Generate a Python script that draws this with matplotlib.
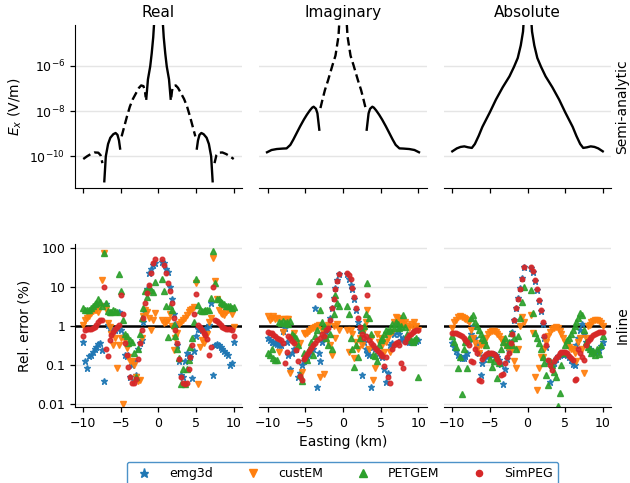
import numpy as np
import matplotlib
matplotlib.use("Agg")
import matplotlib.pyplot as plt
from matplotlib.ticker import NullLocator
from matplotlib.lines import Line2D

nan = np.nan

# ---------------- Semi-analytic Ex (V/m), signed ----------------
x_real = [-10.0, -9.5, -9.0, -8.5, -8.0, -7.7, -7.45,
          -7.2, -7.0, -6.7, -6.4, -6.0, -5.7, -5.45, -5.25, -5.1,
          -4.9, -4.6, -4.2, -3.8, -3.4, -3.0, -2.6, -2.3, -2.0, -1.8, -1.7,
          -1.62, -1.4, -1.1, -0.9, -0.7, -0.5, -0.3, 0.0, 0.3, 0.5, 0.7, 0.9, 1.1, 1.4, 1.62,
          1.7, 1.8, 2.0, 2.3, 2.6, 3.0, 3.4, 3.8, 4.2, 4.6, 4.9,
          5.1, 5.25, 5.45, 5.7, 6.0, 6.4, 6.7, 7.0, 7.2,
          7.45, 7.7, 8.0, 8.5, 9.0, 9.5, 10.0]
ex_real = [-7.6e-11, -1.0e-10, -1.26e-10, -1.48e-10, -1.45e-10, -1.12e-10, -5.0e-11,
           7.9e-12, 1.0e-10, 3.5e-10, 6.6e-10, 9.5e-10, 1.07e-9, 8.9e-10, 5.0e-10, 2.2e-10,
           -7.6e-10, -1.78e-9, -5.6e-9, -1.58e-8, -3.4e-8, -6.0e-8, -1.05e-7, -1.35e-7, -1.26e-7, -7.9e-8, -4.0e-8,
           3.5e-8, 2.5e-7, 9.3e-7, 3.5e-6, 1.78e-5, 2.0e-4, 2.0e-3, 1.0e-2, 2.0e-3, 2.0e-4, 1.78e-5, 3.5e-6, 9.3e-7, 2.5e-7, 3.5e-8,
           -4.0e-8, -7.9e-8, -1.26e-7, -1.35e-7, -1.05e-7, -6.0e-8, -3.4e-8, -1.58e-8, -5.6e-9, -1.78e-9, -7.6e-10,
           2.2e-10, 5.0e-10, 8.9e-10, 1.07e-9, 9.5e-10, 6.6e-10, 3.5e-10, 1.0e-10, 7.9e-12,
           -5.0e-11, -1.12e-10, -1.45e-10, -1.48e-10, -1.26e-10, -1.0e-10, -7.6e-11]

x_imag = [-10.1, -9.5, -8.8, -8.0, -7.5, -7.0, -6.6, -6.2, -5.7, -5.2, -4.8, -4.4, -4.1, -3.9, -3.6, -3.4, -3.15,
          -3.0, -2.7, -2.4, -2.0, -1.7, -1.4, -1.0, -0.6, -0.3, 0.0, 0.3, 0.6, 1.0, 1.4, 1.7, 2.0, 2.4, 2.7, 3.0,
          3.15, 3.4, 3.6, 3.9, 4.1, 4.4, 4.8, 5.2, 5.7, 6.2, 6.6, 7.0, 7.5, 8.0, 8.8, 9.5, 10.1]
ex_imag = [1.51e-10, 1.9e-10, 2.1e-10, 2.2e-10, 2.24e-10, 3.2e-10, 5.5e-10, 1.0e-9, 2.1e-9, 4.2e-9, 6.9e-9, 1.07e-8, 1.41e-8, 1.55e-8, 1.26e-8, 7.9e-9, 1.5e-9,
           -1.35e-8, -3.5e-8, -8.5e-8, -2.2e-7, -4.8e-7, -1.05e-6, -2.8e-6, -2.0e-5, -1.0e-3, -1.0e-2, -1.0e-3, -2.0e-5, -2.8e-6, -1.05e-6, -4.8e-7, -2.2e-7, -8.5e-8, -3.5e-8, -1.35e-8,
           1.5e-9, 7.9e-9, 1.26e-8, 1.55e-8, 1.41e-8, 1.07e-8, 6.9e-9, 4.2e-9, 2.1e-9, 1.0e-9, 5.5e-10, 3.2e-10, 2.24e-10, 2.2e-10, 2.1e-10, 1.9e-10, 1.51e-10]

x_abs = [-10.0, -9.4, -8.9, -8.4, -7.9, -7.4, -7.0, -6.5, -6.0, -5.0, -4.2, -3.3, -2.4, -1.8, -1.3, -0.9, -0.6, -0.3, 0.0,
         0.3, 0.6, 0.9, 1.3, 1.8, 2.4, 3.3, 4.2, 5.0, 6.0, 6.5, 7.0, 7.4, 7.9, 8.4, 8.9, 9.4, 10.0]
ex_abs = [1.66e-10, 2.24e-10, 2.6e-10, 2.75e-10, 2.5e-10, 2.35e-10, 3.5e-10, 7.9e-10, 2.0e-9, 8.9e-9, 3.2e-8, 1.12e-7, 3.4e-7, 8.9e-7, 2.2e-6, 7.9e-6, 3.2e-5, 1.0e-3, 1.0e-2,
          1.0e-3, 3.2e-5, 7.9e-6, 2.2e-6, 8.9e-7, 3.4e-7, 1.12e-7, 3.2e-8, 8.9e-9, 2.0e-9, 7.9e-10, 3.5e-10, 2.35e-10, 2.5e-10, 2.75e-10, 2.6e-10, 2.24e-10, 1.66e-10]

# ---------------- Relative errors, log10 of percent ----------------
offsets = np.linspace(-10, 10, 81)  # receiver offsets (km), 0.25 km spacing

real_emg3d = [-0.4, -0.9, -1.07, -0.77, -0.74, -0.68, -0.6, -0.53, -0.47, -0.45, -0.62, -1.4,
              0.55, 0.03, -0.05, -0.08, -0.1, -0.1, -0.05, 0.35, -0.1, -0.27, -0.74, -0.78,
              -0.74, -1.32, -1.0, -0.9, -1.26, -0.6, -0.45, -0.36, 0.1, 0.35, 0.95, 1.35,
              1.45, 1.57, 1.62, nan, nan, nan, 1.63, 1.6, 1.45,
              1.38, 1.0, 0.7, 0.3, 0.05, -0.5, -0.9, -1.26, -1.3, -0.9, -0.7, -0.74,
              -0.8, -1.33, -0.65, -0.27, -0.08, -0.08, -0.1, -0.1, -0.08, -0.05, 0.03, 0.6,
              -1.26, -0.5, -0.47, -0.5, -0.55, -0.6, -0.65, -0.7, -0.74, -1.0, -0.95, -0.4]
real_custem = [0.03, 0.15, 0.2, 0.25, 0.32, 0.37, 0.4, 0.41, 0.35, 0.5, 1.18, 1.88,
               0.43, 0.07, -0.02, -0.2, -0.49, -0.3, -1.08, -0.5, -0.3, -2.0, -0.36, -0.57,
               -0.8, -0.9, -0.91, -1.0, -1.3, -1.4, -1.38, -0.3, 0.26, 0.41, 0.35, 0.2,
               -0.1, 0.15, 0.32, nan, nan, nan, 0.15, 0.07, 0.1,
               0.15, 0.3, 0.0, -0.62, -0.3, -0.19, 0.05, 0.1, 0.14, 0.2, 0.28, 0.35,
               0.4, 0.44, 0.48, 1.11, -1.5, -0.53, -0.36, -0.45, -0.26, -0.2, 0.09, 0.2,
               1.74, 1.14, 0.7, 0.41, 0.33, 0.3, 0.28, 0.35, 0.4, 0.43, 0.3, -0.03]
real_petgem = [0.45, 0.4, 0.42, 0.4, 0.45, 0.5, 0.55, 0.6, 0.7, 0.62, 0.5, 1.88,
               0.6, 0.37, 0.35, 0.36, 0.4, 0.38, 0.35, 1.33, 0.9, 0.15, -0.2, -0.27,
               -0.44, -0.35, -0.4, -0.7, -1.3, -0.6, -0.2, 0.2, 0.45, 0.9, 0.75, 1.0,
               0.92, 0.88, 1.12, nan, nan, nan, 1.2, 0.9, 0.5,
               -0.29, 0.5, 0.41, 0.03, -0.27, -0.6, -0.83, -1.49, -1.1, -1.5, -1.1, -0.88,
               -0.53, -0.3, 0.1, 1.2, 0.54, 0.4, 0.38, 0.37, 0.4, 0.42, 0.4, 0.71,
               1.92, 1.09, 0.7, 0.68, 0.62, 0.6, 0.55, 0.52, 0.5, 0.5, 0.45, 0.48]
real_simpeg = [-0.26, -0.1, -0.08, -0.08, -0.07, -0.05, -0.03, 0.03, 0.1, 0.14, 0.15, 0.99,
               -0.6, -0.77, -0.36, -0.24, -0.15, -0.08, -0.02, 0.03, 0.8, 0.3, -0.45, -0.75,
               -1.05, -1.3, -1.45, -1.45, -1.35, -0.85, -0.45, -0.1, 0.2, 0.6, 0.85, 1.05,
               1.35, 1.6, 1.72, nan, nan, nan, 1.72, 1.55, 1.35,
               1.1, 0.9, 0.6, 0.2, -0.1, -0.45, -0.85, -1.3, -1.45, -1.5, -1.45, -1.1,
               -0.8, -0.5, 0.3, 0.82, 0.03, -0.04, -0.1, -0.17, -0.24, -0.33, -0.75, -0.55,
               0.99, 0.15, 0.12, 0.07, 0.02, -0.02, -0.05, -0.07, -0.08, -0.09, -0.1, -0.26]

imag_emg3d = [-0.3, -0.36, -0.4, -0.42, -0.45, -0.47, -0.5, -0.48, -0.12, -0.06, -0.4, -0.75,
              -1.1, -0.7, -0.6, -0.6, -1.3, -1.2, -1.0, -0.9, -0.85, -0.8, -0.72, -0.65,
              -0.58, 0.45, -1.56, -0.7, -0.9, -0.4, -0.3, -0.15, 0.0, 0.2, 0.45, 0.72,
              0.97, 1.18, 1.33, nan, nan, nan, 1.33, 1.2, 1.05,
              0.95, 0.7, 0.4, 0.1, -0.1, -1.26, -0.4, -0.6, -0.7, -0.75, -1.56, -0.55,
              -0.6, -0.65, -0.7, -0.75, -0.8, -1.1, -1.43, -1.2, -0.5, -0.45, -0.2, 0.1,
              -0.1, -0.2, -0.35, -0.3, -0.35, -0.38, -0.4, -0.4, -0.42, -0.4, -0.38, -0.35]
imag_custem = [0.26, 0.15, 0.2, 0.26, 0.17, 0.2, -0.68, 0.17, -0.15, 0.17, 0.17, 0.17,
               -1.2, -0.3, -0.17, -0.5, -0.55, -0.45, -1.17, -0.19, -0.2, -0.19, -0.12, -0.08,
               -0.05, -0.02, 0.0, 0.02, -1.3, -0.1, -1.23, -0.3, 0.03, -0.5, -0.74, 0.0,
               -0.3, 0.05, -0.1, nan, nan, nan, -0.1, -0.66, -0.1,
               -0.2, -0.83, -0.4, -0.6, -0.3, -0.5, -0.1, 0.1, 0.41, -0.6, -0.3, -1.38,
               -1.08, -0.2, -0.4, -0.3, -0.5, -0.66, -0.4, -0.3, -0.66, -0.15, 0.1, 0.24,
               0.2, 0.15, 0.1, 0.05, 0.1, 0.0, -0.05, 0.05, -0.02, 0.1, 0.0, -0.1]
imag_petgem = [-0.7, -0.75, -0.6, -0.82, -0.87, -0.88, 0.1, 0.08, 0.12, 0.07, 0.1, 0.05,
               0.12, -0.2, -0.27, -0.3, -0.5, -1.26, -1.4, -0.7, -0.8, -0.87, -0.6, -0.4,
               -0.75, -0.25, -0.1, 1.16, 0.4, 0.1, 0.0, -0.3, -0.5, -0.2, -0.6, 0.3,
               0.8, 0.6, 0.5, nan, nan, nan, 0.5, 0.3, -0.3,
               -0.6, -1.04, -0.5, -0.8, -0.3, -0.1, 0.0, 0.3, 1.1, 0.2, -0.2, -0.74,
               -0.78, -0.9, -0.5, -0.36, -0.3, -0.2, -0.1, -0.12, -0.1, 0.05, -0.05, 0.1,
               0.05, -0.05, 0.0, 0.28, -0.02, -0.2, -0.3, -0.36, -0.4, -0.35, -0.3, -1.3]
imag_simpeg = [-0.15, -0.17, -0.19, -0.22, -0.26, -0.3, -0.33, -0.36, -0.45, -0.94, -0.66, -0.27,
               -0.3, -0.38, -0.44, -0.62, -0.9, -1.28, -1.38, -0.85, -0.8, -0.72, -0.64, -0.56,
               -0.5, -0.43, -0.36, 0.8, -0.3, -0.2, -0.25, -0.1, -0.05, 0.15, 0.45, 0.7,
               0.95, 1.15, 1.32, nan, nan, nan, 1.35, 1.3, 1.2,
               0.97, 0.74, 0.45, 0.2, -0.03, -0.2, -0.3, -0.25, 0.8, -0.36, -0.43, -0.5,
               -0.56, -0.62, -0.67, -0.72, -0.76, -1.03, -0.8, -1.3, -1.45, -0.6, -0.5, -0.45,
               -0.4, -0.5, -0.96, -1.09, -0.4, -0.3, -0.24, -0.2, -0.16, -0.13, -0.11, -0.1]

abs_emg3d = [-0.45, -0.55, -0.65, -0.75, -0.8, -0.83, -0.82, -0.78, -0.7, -0.4, -0.2, 0.0,
             -0.3, -0.5, -0.7, -1.26, -0.95, -0.85, -0.78, -0.74, -0.72, -0.71, -0.72, -0.75,
             -0.8, -0.87, -0.97, -1.5, -1.1, -0.85, -0.65, -0.4, -0.15, 0.15, 0.45, 0.72,
             0.97, 1.22, 1.5, nan, nan, nan, 1.48, 1.38, 1.15,
             0.93, 0.65, 0.38, 0.05, -0.3, -0.55, -0.9, -1.43, -1.05, -0.95, -0.85, -0.78,
             -0.74, -0.72, -0.71, -0.72, -0.75, -0.8, -0.87, -0.97, -1.0, -0.5, -0.3, -0.1,
             0.05, -0.2, -0.4, -0.55, -0.6, -0.65, -0.68, -0.7, -0.68, -0.62, -0.52, -0.42]
abs_custem = [-0.06, 0.11, 0.15, 0.22, 0.26, 0.24, 0.2, 0.17, 0.15, 0.11, -0.1, -0.3,
              -0.45, -0.6, -0.7, -0.5, -0.45, -0.5, -0.3, -0.2, -0.15, -0.12, -0.12, -0.15,
              -0.2, -0.26, -0.33, -0.4, -0.5, -0.55, -0.55, -0.55, -0.6, -0.9, -1.08, -0.6,
              0.0, 0.24, 0.1, nan, nan, nan, 0.27, -0.19, -1.3,
              -1.64, -1.08, -0.8, -0.79, -0.6, -0.4, -0.25, -0.15, -0.08, -0.05, -0.04, -0.06,
              -0.12, -0.2, -0.3, -0.4, -0.5, -0.55, -0.58, -0.6, -0.7, -0.9, -0.4, -0.3,
              -0.6, -1.2, -0.3, 0.0, 0.03, 0.1, 0.13, 0.15, 0.14, 0.12, 0.08, 0.0]
abs_petgem = [-0.27, -0.4, -0.53, -1.07, -0.8, -1.74, -0.6, -0.4, -1.08, -0.3, 0.2, 0.28,
              0.1, 0.0, -0.1, -0.2, -0.3, -0.36, -0.5, -0.7, -0.85, -1.04, -0.9, -0.8,
              -1.34, -0.95, -0.6, -0.4, -0.3, -0.5, -0.4, -0.19, -0.5, -0.3, -0.6, -0.27,
              0.2, 0.62, 0.99, nan, nan, nan, 0.92, 0.32, -0.19,
              -0.3, -0.44, -0.6, -0.8, -0.96, -1.26, -1.51, -0.9, -1.0, -1.17, -1.3, -2.04,
              -1.71, -1.0, -0.7, -0.5, -0.36, -0.3, -0.2, -0.1, 0.0, 0.1, 0.2, 0.34,
              0.28, -0.1, -0.4, -0.55, -0.6, -0.7, -0.65, -0.75, -0.6, -0.72, -0.5, -0.27]
abs_simpeg = [-0.17, -0.17, -0.19, -0.2, -0.22, -0.25, -0.3, -0.35, -0.42, -0.5, -0.9, -0.92,
              -0.6, -0.7, -1.38, -1.42, -0.85, -0.78, -0.73, -0.7, -0.7, -0.7, -0.73, -0.78,
              -0.85, -0.92, -1.25, -1.22, -0.95, -0.8, -0.7, -0.45, -0.2, 0.15, 0.45, 0.7,
              0.95, 1.2, 1.52, nan, nan, nan, 1.52, 1.4, 1.18,
              0.95, 0.67, 0.41, 0.1, -0.27, -0.5, -0.87, -1.0, -1.13, -0.9, -0.83, -0.76,
              -0.7, -0.67, -0.66, -0.67, -0.7, -0.76, -0.82, -0.88, -1.38, -1.35, -0.6, -0.7,
              -0.8, -0.87, -0.5, -0.38, -0.33, -0.28, -0.24, -0.2, -0.18, -0.16, -0.15, -0.15]

titles = ["Real", "Imaginary", "Absolute"]
codes = ["emg3d", "custEM", "PETGEM", "SimPEG"]
markers = ["*", "v", "^", "o"]
msizes = [5.0, 4.2, 4.2, 3.3]
colors = ["C0", "C1", "C2", "C3"]
errors = [[real_emg3d, real_custem, real_petgem, real_simpeg],
          [imag_emg3d, imag_custem, imag_petgem, imag_simpeg],
          [abs_emg3d, abs_custem, abs_petgem, abs_simpeg]]
fields = [(x_real, ex_real), (x_imag, ex_imag), (x_abs, ex_abs)]

fig = plt.figure(figsize=(6.3, 4.83), dpi=100)
lefts = [0.119, 0.4119, 0.7048]
width = 0.2651
height = 0.3375
bottoms = [0.6108, 0.1574]
grid_col = "#e5e5e5"

axes = [[fig.add_axes([l, b, width, height]) for l in lefts] for b in bottoms]

for j in range(3):
    # --- top row
    ax = axes[0][j]
    xs = np.array(fields[j][0])
    v = np.array(fields[j][1])
    pos = np.where(v > 0, v, nan)
    neg = np.where(v < 0, -v, nan)
    ax.plot(xs, pos, "k-", lw=1.7)
    ax.plot(xs, neg, "k--", lw=1.7, dashes=(3.6, 1.8))
    ax.set_yscale("log")
    ax.set_ylim(4e-12, 6.3e-5)
    ax.set_yticks([1e-10, 1e-8, 1e-6])
    ax.yaxis.set_minor_locator(NullLocator())
    ax.set_title(titles[j], fontsize=11, pad=6)
    ax.tick_params(axis="x", labelbottom=False)

    # --- bottom row
    ax = axes[1][j]
    ax.axhline(1, color="k", lw=1.8, zorder=1.5)
    for k in range(4):
        e = 10 ** np.array(errors[j][k], dtype=float)
        ax.plot(offsets, e, ls="none", marker=markers[k], ms=msizes[k],
                color=colors[k], mec=colors[k], alpha=0.9, zorder=2 + k * 0.1)
    ax.set_yscale("log")
    ax.set_ylim(10 ** -2.077, 10 ** 2.1)
    ax.set_yticks([0.01, 0.1, 1, 10, 100])
    ax.set_yticklabels(["0.01", "0.1", "1", "10", "100"])
    ax.yaxis.set_minor_locator(NullLocator())

for row in axes:
    for j, ax in enumerate(row):
        ax.set_xlim(-11.1, 11.1)
        ax.set_xticks([-10, -5, 0, 5, 10])
        ax.yaxis.grid(True, color=grid_col, lw=1.0)
        ax.set_axisbelow(True)
        for s in ["top", "right"]:
            ax.spines[s].set_visible(False)
        ax.tick_params(labelsize=9, length=3.5, width=0.9)
        if j > 0:
            ax.spines["left"].set_visible(False)
            ax.tick_params(axis="y", left=False, labelleft=False)

axes[0][0].set_ylabel(r"$E_x$ (V/m)", fontsize=10)
axes[1][0].set_ylabel("Rel. error (%)", fontsize=10)
axes[1][1].set_xlabel("Easting (km)", fontsize=10)
for r, lab in zip(range(2), ["Semi-analytic", "Inline"]):
    a = axes[r][2]
    a.yaxis.set_label_position("right")
    a.set_ylabel(lab, fontsize=10, labelpad=3)

handles = [Line2D([], [], ls="none", marker=markers[k], ms=msizes[k] * 1.35,
                  color=colors[k]) for k in range(4)]
leg = fig.legend(handles, codes, loc="upper center", bbox_to_anchor=(0.5437, 0.0435),
                 ncol=4, fontsize=9, handlelength=2.0, handletextpad=1.0,
                 columnspacing=2.2, borderpad=0.4, borderaxespad=0.0,
                 framealpha=1.0, fancybox=True)
leg.get_frame().set_edgecolor("#4c92c8")
leg.get_frame().set_linewidth(1.0)

fig.savefig("out.png", dpi=100)
